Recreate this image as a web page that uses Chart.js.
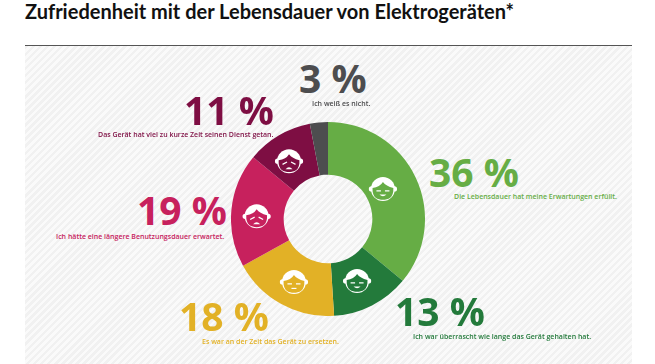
<!DOCTYPE html>
<html lang="de">
<head>
<meta charset="utf-8">
<script src="https://cdn.jsdelivr.net/npm/chart.js@4"></script>
<style>
html, body { margin: 0; padding: 0; background: #fff; }
#page { position: relative; width: 655px; height: 364px; overflow: hidden; font-family: "Open Sans", sans-serif; }
#title { position: absolute; left: 25px; top: 0; font-family: Lato, sans-serif; font-size: 20px; line-height: 22px; font-weight: 700; color: #111; white-space: nowrap; }
#panel { position: absolute; left: 25px; top: 45px; width: 607px; height: 319px; box-sizing: border-box; border-top: 1.5px solid #555;
    background: repeating-linear-gradient(135deg, #f1f1f1 0, #f1f1f1 2.5px, #fafafa 2.5px, #fafafa 5px); }
#wrap { position: absolute; left: 231px; top: 122px; width: 194px; height: 194px; }
.num { position: absolute; font-size: 39px; line-height: 30px; font-weight: 700; white-space: nowrap; }
.txt { position: absolute; font-size: 7px; line-height: 9px; font-weight: 600; white-space: nowrap; }
</style>
</head>
<body>
<div id="page">
    <div id="title">Zufriedenheit mit der Lebensdauer von Elektrogeräten*</div>
    <div id="panel"></div>
    <div id="wrap"><canvas id="donut" width="194" height="194"></canvas></div>
</div>
<script>
var categories = [
    "Die Lebensdauer hat meine Erwartungen erfüllt.",
    "Ich war überrascht wie lange das Gerät gehalten hat.",
    "Es war an der Zeit das Gerät zu ersetzen.",
    "Ich hätte eine längere Benutzungsdauer erwartet.",
    "Das Gerät hat viel zu kurze Zeit seinen Dienst getan.",
    "Ich weiß es nicht."
]
var values = [36, 13, 18, 19, 11, 3]
var colors = ["#66ad45", "#237a3b", "#e2b126", "#c7215d", "#7e0e43", "#4d4d4f"]
var moods = ["happy", "happy", "neutral", "sad", "sad", null]

// where the big number and the small line go: [numX, numY, txtX, txtY]
var labelPos = [
    [429, 157, 454, 192],
    [395, 296, 413, 332],
    [179, 301, 202, 337],
    [137, 195, 56, 232],
    [184, 95, 98, 130],
    [299, 63, 312, 99]
]
var faceShift = [[-9, -1], [-3, -2], [0, 0], [-1, 3], [-3, 2], [0, 0]]

function drawFace(ctx, x, y, mood, color){
    ctx.save()
    ctx.translate(x, y)
    ctx.fillStyle = "#fff"
    ctx.strokeStyle = "#fff"
    // ears
    ctx.beginPath()
    ctx.arc(-11.5, 1, 2.6, 0, Math.PI * 2)
    ctx.arc(11.5, 1, 2.6, 0, Math.PI * 2)
    ctx.fill()
    // head
    ctx.beginPath()
    ctx.arc(0, 1, 12, 0, Math.PI * 2)
    ctx.fill()
    ctx.fillStyle = color
    ctx.beginPath()
    ctx.moveTo(-10.4, 0)
    ctx.quadraticCurveTo(-3, -1, 0, -6)
    ctx.quadraticCurveTo(3, -2, 10.4, 0)
    ctx.bezierCurveTo(11, 10, 5, 11.8, 0, 11.8)
    ctx.bezierCurveTo(-5, 11.8, -11, 10, -10.4, 0)
    ctx.fill()
    ctx.fillStyle = "#fff"
    ctx.lineWidth = 1.2
    // eyes
    let tilt = mood == "sad" ? 1.2 : 0
    ctx.beginPath()
    ctx.moveTo(-6.5, 3 + tilt)
    ctx.lineTo(-2, 3 - tilt)
    ctx.moveTo(2, 3 - tilt)
    ctx.lineTo(6.5, 3 + tilt)
    ctx.stroke()
    // mouth
    ctx.beginPath()
    if(mood == "happy"){
        ctx.moveTo(-3.5, 6.5)
        ctx.quadraticCurveTo(0, 10, 3.5, 6.5)
        ctx.closePath()
        ctx.fill()
    } else if(mood == "sad"){
        ctx.moveTo(-3.5, 9)
        ctx.quadraticCurveTo(0, 5, 3.5, 9)
        ctx.closePath()
        ctx.fill()
    } else {
        ctx.moveTo(-2.5, 7.5)
        ctx.lineTo(2.5, 7.5)
        ctx.stroke()
    }
    ctx.restore()
}

var facesPlugin = {
    id: "faces",
    afterDatasetsDraw(chart){
        let arcs = chart.getDatasetMeta(0).data
        arcs.forEach((arc, i) => {
            if(!moods[i]) return
            let p = arc.getCenterPoint()
            drawFace(chart.ctx, p.x + faceShift[i][0], p.y + faceShift[i][1], moods[i], colors[i])
        })
    }
}

function addLabels(){
    let page = document.getElementById("page")
    categories.forEach((text, i) => {
        let num = document.createElement("div")
        num.className = "num"
        num.style.left = labelPos[i][0] + "px"
        num.style.top = labelPos[i][1] + "px"
        num.style.color = colors[i]
        num.textContent = values[i] + " %"
        page.appendChild(num)
        let txt = document.createElement("div")
        txt.className = "txt"
        txt.style.left = labelPos[i][2] + "px"
        txt.style.top = labelPos[i][3] + "px"
        txt.style.color = colors[i]
        txt.textContent = text
        page.appendChild(txt)
    })
}

window.onload = function () {
    addLabels()
    new Chart(document.getElementById("donut"), {
        type: "doughnut",
        data: {
            labels: categories,
            datasets: [{
                data: values,
                backgroundColor: colors,
                borderWidth: 0
            }]
        },
        options: {
            responsive: false,
            animation: false,
            cutout: "45.7%",
            layout: { padding: 0 },
            plugins: {
                legend: { display: false },
                tooltip: { enabled: false },
                title: { display: false }
            }
        },
        plugins: [facesPlugin]
    })
}
</script>
</body>
</html>
